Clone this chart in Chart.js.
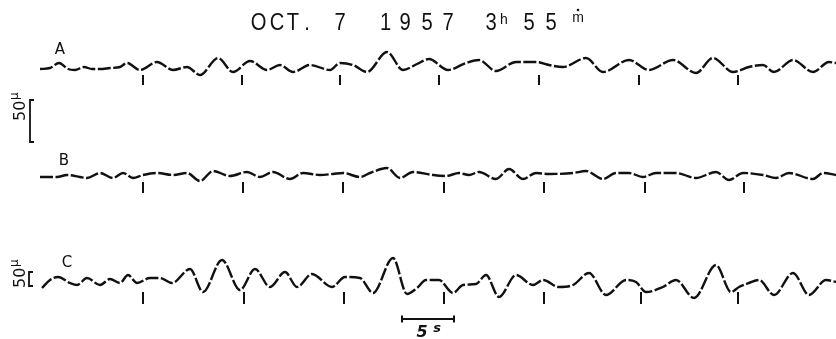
<!DOCTYPE html>
<html>
<head>
<meta charset="utf-8">
<script src="https://cdn.jsdelivr.net/npm/chart.js@4.4.1/dist/chart.umd.min.js"></script>
<style>
html, body { margin: 0; padding: 0; background: #fff; }
#wrap { width: 836px; height: 339px; }
</style>
</head>
<body>
<div id="wrap"><canvas id="seis" width="836" height="339"></canvas></div>
<script>
// record A, B, C : time (s from start of trace) / deflection (up = +)
var timeA = [0.0, 1.0, 1.9, 2.8, 3.5, 4.4, 5.2, 6.0, 7.0, 8.0, 8.7, 10.0, 11.7, 13.3, 14.7, 16.0, 17.8, 19.3, 21.0, 22.7, 24.0, 25.3, 27.0, 29.0, 30.0, 31.3, 32.7, 34.7, 36.3, 37.7, 38.9, 40.8, 42.6, 43.9, 45.6, 47.6, 49.6, 50.9, 52.3, 54.6, 56.3, 58.9, 60.9, 63.3, 65.6, 67.3, 69.3, 70.9, 72.3, 73.4, 75.3, 77.3, 78.9, 79.6];
var defA  = [-1, 0, 5, -1, -2, 1, -1, -1, 0, 1, 5, -2, 6, -2, 1, -7, 10, -4, 7, -2, 3, -4, 3, -2, 5, 3, -4, 16, -2, 4, 9, -2, 5, 8, -3, 6, 6, 3, 1, 10, -4, 8, -2, 8, -5, 10, -4, 1, 3, -4, 8, -4, 6, 5];

var timeB = [0.0, 1.7, 2.7, 4.0, 4.7, 6.0, 7.3, 8.3, 9.3, 10.3, 11.7, 13.3, 14.7, 16.0, 17.3, 19.0, 20.7, 22.0, 23.3, 25.0, 26.3, 28.0, 29.3, 30.3, 32.0, 33.0, 34.7, 36.0, 37.3, 39.3, 40.6, 41.9, 42.9, 43.9, 45.6, 46.9, 48.3, 49.6, 50.9, 53.3, 54.6, 56.3, 57.6, 58.9, 60.3, 61.6, 63.6, 65.6, 67.6, 68.9, 70.3, 72.3, 73.6, 74.9, 77.3, 78.3, 79.6];
var defB  = [-2, -2, 0, -2, -3, 2, -3, 2, -3, 0, 2, 0, 2, -6, 4, -1, 3, -2, 3, -4, 2, 0, 1, 2, -2, 2, 7, -3, 3, 0, -1, 2, 0, 3, -4, 6, -4, 2, 1, 2, 4, -4, 2, 2, -2, 2, 2, -3, 3, -5, 2, 0, -3, 2, -4, 2, 0];

var timeC = [0.2, 1.0, 1.8, 3.0, 3.7, 4.7, 6.0, 7.0, 8.0, 8.8, 9.7, 11.0, 12.0, 13.2, 15.0, 16.3, 18.2, 20.0, 21.5, 23.0, 24.5, 25.7, 27.2, 29.2, 30.5, 32.0, 33.3, 35.3, 36.7, 37.7, 38.6, 39.9, 41.3, 42.3, 43.6, 44.6, 45.9, 47.6, 49.3, 50.3, 51.9, 53.3, 54.9, 56.6, 58.6, 59.6, 60.6, 62.3, 63.6, 65.4, 67.6, 69.1, 69.9, 70.9, 71.9, 73.4, 75.3, 76.9, 78.6, 79.6];
var defC  = [-5, 3, 6, 0, -2, 5, -2, 4, 0, 8, 0, 5, 5, 0, 14, -9, 23, -7, 14, -4, 11, -4, 9, -4, 6, 5, -10, 25, -11, -5, 3, 3, -10, -2, -1, 8, -14, 8, -2, 3, -4, -2, 10, -12, 3, 1, -9, -4, 3, -15, 18, -9, -4, 0, 3, -12, 10, -12, 3, 1];

// time marks (s)
var marksA = [10.3, 20.2, 30.0, 39.9, 49.9, 59.9, 69.8];
var marksB = [10.3, 20.3, 30.3, 40.4, 50.4, 60.5, 70.4];
var marksC = [10.3, 20.4, 30.4, 40.4, 50.4, 60.1, 69.8];

var traceNames = ['A', 'B', 'C'];

// drawing layout (not data)
var baseLine = { A: 271, B: 164, C: 56 };      // trace zero line, chart units
var markSpan = { A: [-7, -17], B: [-7, -18], C: [-9, -21] };
var ink = '#111';

function toPoints(times, vals, base) {
	var pts = [];
	for (var i = 0; i < Math.min(times.length, vals.length); i++) {
		pts.push({ x: times[i], y: base + vals[i] });
	}
	return pts;
}

function traceSet(times, vals, base) {
	return {
		data: toPoints(times, vals, base),
		borderColor: ink,
		borderWidth: 2.4,
		borderDash: [13, 2.5],
		pointRadius: 0,
		fill: false,
		cubicInterpolationMode: 'monotone'
	};
}

var decor = {
	id: 'decor',
	afterDatasetsDraw: function(chart) {
		var ctx = chart.ctx;
		var xs = chart.scales.x, ys = chart.scales.y;
		ctx.save();
		ctx.strokeStyle = ink;
		ctx.fillStyle = ink;
		ctx.lineWidth = 2;
		ctx.lineCap = 'butt';

		// time marks
		var marks = { A: marksA, B: marksB, C: marksC };
		traceNames.forEach(function(n) {
			marks[n].forEach(function(t) {
				var x = Math.round(xs.getPixelForValue(t));
				ctx.beginPath();
				ctx.moveTo(x, ys.getPixelForValue(baseLine[n] + markSpan[n][0]));
				ctx.lineTo(x, ys.getPixelForValue(baseLine[n] + markSpan[n][1]));
				ctx.stroke();
			});
		});

		// trace letters
		ctx.font = '15px "DejaVu Sans", sans-serif';
		ctx.textAlign = 'center';
		ctx.textBaseline = 'middle';
		ctx.fillText('A', 60, 50);
		ctx.fillText('B', 64, 161);
		ctx.fillText('C', 67, 263);

		// 50 micron brackets
		function bracket(x, y1, y2) {
			ctx.lineWidth = 1.8;
			ctx.beginPath();
			ctx.moveTo(x + 4, y1);
			ctx.lineTo(x, y1);
			ctx.lineTo(x, y2);
			ctx.lineTo(x + 4, y2);
			ctx.stroke();
		}
		function microLabel(x, y) {
			ctx.save();
			ctx.translate(x, y);
			ctx.rotate(-Math.PI / 2);
			ctx.textAlign = 'left';
			ctx.textBaseline = 'alphabetic';
			ctx.font = '16px "DejaVu Sans", sans-serif';
			ctx.fillText('50', 0, 0);
			ctx.font = '12px "DejaVu Sans", sans-serif';
			ctx.fillText('\u00b5', 21, -7);
			ctx.restore();
		}
		bracket(30, 100, 142);
		microLabel(25, 121);
		bracket(29, 272, 286);
		microLabel(25, 288);

		// 5 s scale bar
		var x0 = xs.getPixelForValue(36.2), x1 = xs.getPixelForValue(41.4);
		ctx.lineWidth = 2;
		ctx.beginPath();
		ctx.moveTo(x0, 319); ctx.lineTo(x1, 319);
		ctx.moveTo(x0, 315.5); ctx.lineTo(x0, 322.5);
		ctx.moveTo(x1, 315.5); ctx.lineTo(x1, 322.5);
		ctx.stroke();
		ctx.textAlign = 'center';
		ctx.textBaseline = 'alphabetic';
		ctx.font = 'italic bold 16px "DejaVu Sans", sans-serif';
		ctx.fillText('5', 422, 337);
		ctx.font = 'italic bold 13px "DejaVu Sans", sans-serif';
		ctx.fillText('s', 437, 332);

		// title
		var chars = [['O', 258.5], ['C', 277], ['T', 293], ['.', 307], ['7', 340],
			['1', 385.5], ['9', 405], ['5', 427], ['7', 448], ['3', 491], ['5', 529], ['5', 551]];
		ctx.font = '24px "Liberation Sans", Arial, sans-serif';
		chars.forEach(function(c) {
			ctx.save();
			ctx.translate(c[1], 30);
			ctx.scale(0.84, 1);
			ctx.fillText(c[0], 0, 0);
			ctx.restore();
		});
		ctx.font = '14px "Liberation Sans", Arial, sans-serif';
		ctx.fillText('h', 504, 24);
		ctx.fillText('m', 578, 22);
		ctx.beginPath();
		ctx.arc(578, 10, 1.3, 0, Math.PI * 2);
		ctx.fill();

		ctx.restore();
	}
};

var myChart = new Chart(document.getElementById('seis').getContext('2d'), {
	type: 'line',
	data: {
		datasets: [
			traceSet(timeA, defA, baseLine.A),
			traceSet(timeB, defB, baseLine.B),
			traceSet(timeC, defC, baseLine.C)
		]
	},
	options: {
		animation: false,
		responsive: false,
		maintainAspectRatio: false,
		layout: { padding: 0 },
		scales: {
			x: { type: 'linear', min: -4, max: 79.6, display: false },
			y: { type: 'linear', min: 0, max: 339, display: false }
		},
		plugins: {
			legend: { display: false },
			tooltip: { enabled: false },
			title: { display: false }
		}
	},
	plugins: [decor]
});
</script>
</body>
</html>
